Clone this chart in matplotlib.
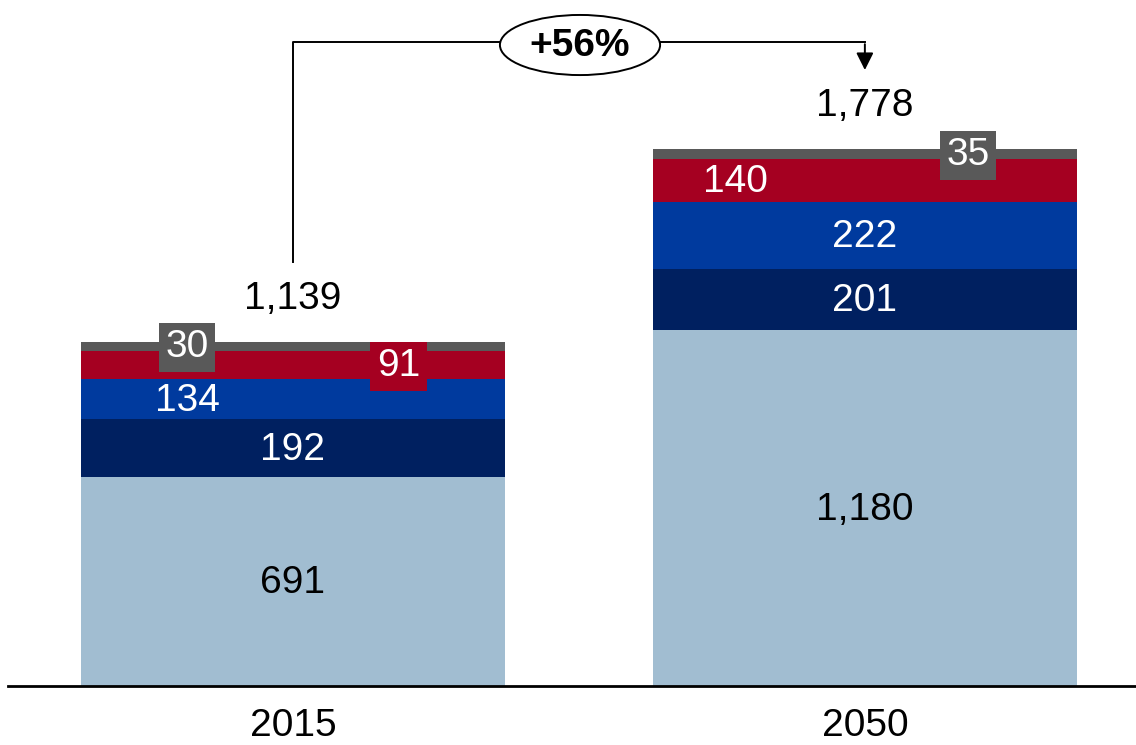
import matplotlib.pyplot as plt
from matplotlib.patches import Ellipse

plt.rcParams['font.family'] = ['Liberation Sans', 'DejaVu Sans']

years = ['2015', '2050']
base = [691, 1180]
navy = [192, 201]
blue = [134, 222]
red = [91, 140]
grey = [30, 35]
totals = ['1,139', '1,778']
growth = '+56%'

colors = ['#A1BDD1', '#002060', '#003A9E', '#A50021', '#595959']
series = [base, navy, blue, red, grey]

fig = plt.figure(figsize=(11.36, 7.45), dpi=100)
ax = fig.add_axes([8 / 1136, 59 / 745, 1 - 8 / 1136, 686 / 745])

x = [0, 1]
bottoms = [0, 0]
mids = []
for vals, c in zip(series, colors):
    ax.bar(x, vals, width=0.74, bottom=bottoms, color=c, linewidth=0)
    mids.append([b + v / 2 for b, v in zip(bottoms, vals)])
    bottoms = [b + v for b, v in zip(bottoms, vals)]

fs = 28
box = 'square,pad=0.17'
# base values (dark text)
for i in range(2):
    ax.text(x[i], mids[0][i] - 6, '{:,}'.format(base[i]), ha='center', va='center',
            fontsize=fs, color='black')
    ax.text(x[i], mids[1][i] - 5, str(navy[i]), ha='center', va='center',
            fontsize=fs, color='white')

# 2015 small segments
ax.text(x[0] - 0.184, mids[2][0] - 5, str(blue[0]), ha='center', va='center', fontsize=fs, color='white')
ax.text(x[0] + 0.185, mids[3][0] - 4, str(red[0]), ha='center', va='center', fontsize=fs, color='white',
        bbox=dict(boxstyle=box, fc=colors[3], ec='none'))
ax.text(x[0] - 0.185, mids[4][0] - 2, str(grey[0]), ha='center', va='center', fontsize=fs, color='white',
        bbox=dict(boxstyle=box, fc=colors[4], ec='none'))

# 2050 small segments
ax.text(x[1], mids[2][1] - 5, str(blue[1]), ha='center', va='center', fontsize=fs, color='white')
ax.text(x[1] - 0.227, mids[3][1] - 4, str(red[1]), ha='center', va='center', fontsize=fs, color='white')
ax.text(x[1] + 0.18, mids[4][1] - 4, str(grey[1]), ha='center', va='center', fontsize=fs, color='white',
        bbox=dict(boxstyle=box, fc=colors[4], ec='none'))

# totals
ax.text(x[0], bottoms[0] + 142, totals[0], ha='center', va='center', fontsize=fs)
ax.text(x[1], bottoms[1] + 141, totals[1], ha='center', va='center', fontsize=fs)

# growth connector
y_line = 2132
ax.plot([x[0], x[0], x[1]], [1404, y_line, y_line], color='black', lw=1.4)
ax.annotate('', xy=(x[1], 2030), xytext=(x[1], y_line + 2),
            arrowprops=dict(arrowstyle='-|>', color='black', lw=1.4, mutation_scale=26))
ell = Ellipse((0.502, 2122), 0.28, 199, fc='white', ec='black', lw=1.4, zorder=3)
ax.add_patch(ell)
ax.text(0.502, 2119, growth, ha='center', va='center', fontsize=fs, fontweight='bold', zorder=4)

ax.set_xlim(-0.498, 1.474)
ax.set_ylim(0, 2271)
ax.set_xticks(x)
ax.set_xticklabels(years, fontsize=fs)
ax.tick_params(axis='x', length=0, pad=16)
ax.set_yticks([])
for s in ['top', 'right', 'left']:
    ax.spines[s].set_visible(False)
ax.spines['bottom'].set_linewidth(2)

fig.savefig('out.png', dpi=100)
